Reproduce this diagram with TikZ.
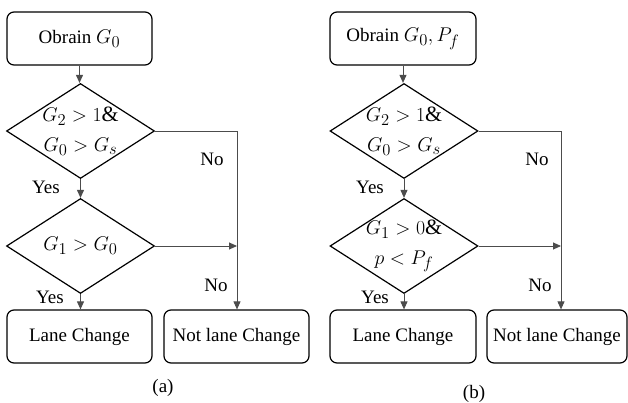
\documentclass[tikz,border=0pt]{standalone}
\usepackage{graphicx}
\usepackage{fontspec}
\setmainfont{Liberation Serif}
\usetikzlibrary{shapes.geometric,arrows.meta}
\newcommand\mth[1]{\scalebox{1.15}{$#1$}}
\begin{document}
\begin{tikzpicture}[x=1pt,y=-1pt,
  every node/.style={font=\fontsize{19}{28}\selectfont},
  box/.style={draw, line width=1.2pt, rounded corners=7pt, minimum width=145pt, minimum height=53pt, inner sep=0pt},
  dec/.style={diamond, draw, line width=1.2pt, minimum width=148pt, minimum height=95pt, inner sep=0pt},
  conn/.style={draw=black!70, line width=0.9pt},
  arr/.style={conn, -{Triangle[length=8pt,width=7pt]}},
  lbl/.style={inner sep=0pt},
  dtext/.style={inner sep=0pt, align=center, font=\fontsize{19}{30}\selectfont}]
\useasboundingbox (0,0) rectangle (628,403);
% ---------- (a) ----------
\node[box] (ta) at (79.5,38.5) {Obrain \mth{G_0}};
\node[dec] (da1) at (80.5,131) {};
\node[dtext] (da1t) at (da1) {\mth{G_2 > 1\&}\\\mth{G_0 > G_s}};
\node[dec] (da2) at (80.5,246) {};
\node[dtext] (da2t) at (da2) {\mth{G_1 > G_0}};
\node[box] (la) at (79.5,336.5) {Lane Change};
\node[box] (na) at (236.5,336.5) {Not lane Change};
\coordinate (ca) at (237,131);
\draw[arr] (ta.south) -- (ta.south |- da1.north);
\draw[arr] (da1.south) -- (da2.north);
\draw[arr] (da2.south) -- (da2.south |- la.north);
\draw[arr] (da1.east) -- (ca) -- (ca |- na.north);
\draw[arr] (da2.east) -- (da2.east -| ca);
\node[lbl] (ya1) at (46,187) {Yes};
\node[lbl] (ya2) at (50,297) {Yes};
\node[lbl] (na1) at (212,159) {No};
\node[lbl] (na2) at (216,285) {No};
\node[lbl] (capa) at (163,388) {(a)};
% ---------- (b) ----------
\node[box, minimum width=146pt] (tb) at (403,38.5) {Obrain \mth{G_0, P_f}};
\node[dec] (db1) at (404,131) {};
\node[dtext] (db1t) at (db1) {\mth{G_2 > 1\&}\\\mth{G_0 > G_s}};
\node[dec] (db2) at (404,246) {};
\node[dtext] (db2t) at (db2) {\mth{G_1 > 0\&}\\\mth{p < P_f}};
\node[box, minimum width=146pt] (lb) at (403,336.5) {Lane Change};
\node[box, minimum width=140pt] (nb) at (557,336.5) {Not lane Change};
\coordinate (cb) at (561,131);
\draw[arr] (tb.south) -- (tb.south |- db1.north);
\draw[arr] (db1.south) -- (db2.north);
\draw[arr] (db2.south) -- (db2.south |- lb.north);
\draw[arr] (db1.east) -- (cb) -- (cb |- nb.north);
\draw[arr] (db2.east) -- (db2.east -| cb);
\node[lbl] (yb1) at (370,187) {Yes};
\node[lbl] (yb2) at (375,297) {Yes};
\node[lbl] (nb1) at (537,159) {No};
\node[lbl] (nb2) at (540,285) {No};
\node[lbl] (capb) at (474,394) {(b)};
\end{tikzpicture}
\end{document}
